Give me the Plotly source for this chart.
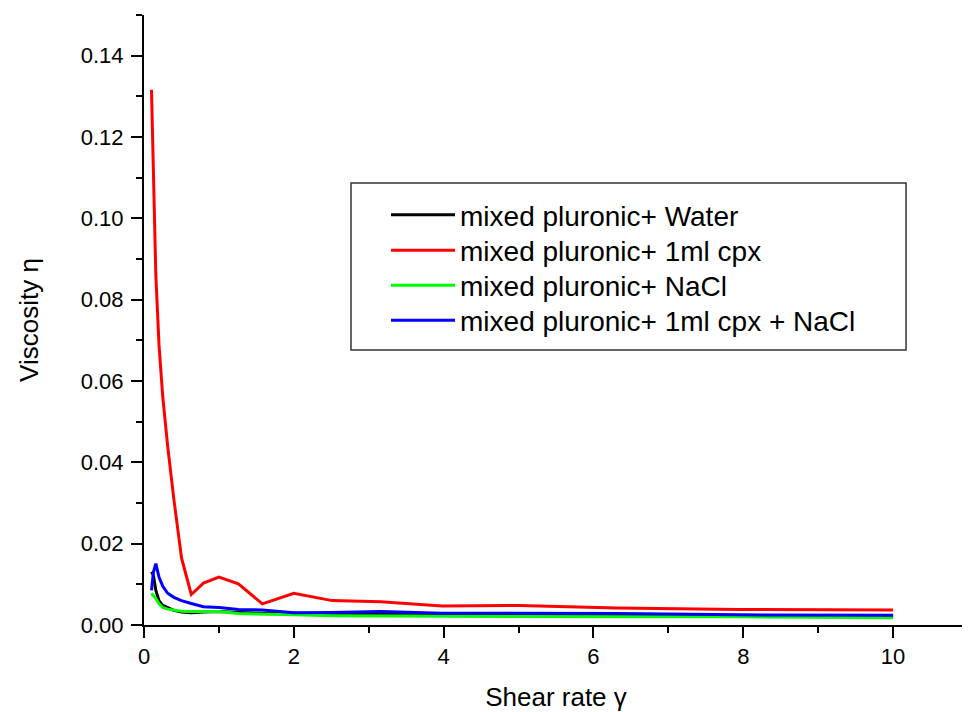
import plotly.graph_objects as go

shear_rate = [0.1, 0.126, 0.158, 0.2, 0.251, 0.316, 0.398, 0.501, 0.631, 0.794,
              1.0, 1.26, 1.58, 2.0, 2.51, 3.16, 3.98, 5.01, 6.31, 7.94, 10.0]

water = [0.0131, 0.0122, 0.0085, 0.0060, 0.0048, 0.0042, 0.0036, 0.0032, 0.0030, 0.0032,
         0.0033, 0.0031, 0.0029, 0.0029, 0.0027, 0.0027, 0.0026, 0.0025, 0.0024, 0.0023, 0.0022]
cpx = [0.1316, 0.112, 0.086, 0.069, 0.056, 0.044, 0.031, 0.0165, 0.0075, 0.0103,
       0.0118, 0.0101, 0.0052, 0.0078, 0.0060, 0.0057, 0.0047, 0.0048, 0.0042, 0.0038, 0.0037]
nacl = [0.0078, 0.0072, 0.0065, 0.0052, 0.0043, 0.0039, 0.0036, 0.0034, 0.0033, 0.0033,
        0.0033, 0.0028, 0.0026, 0.0025, 0.0023, 0.0022, 0.0021, 0.0021, 0.0020, 0.0020, 0.0018]
cpx_nacl = [0.0085, 0.0130, 0.0151, 0.0118, 0.0095, 0.0078, 0.0068, 0.0060, 0.0053, 0.0045,
            0.0043, 0.0038, 0.0037, 0.0030, 0.0031, 0.0033, 0.0029, 0.0029, 0.0028, 0.0025, 0.0024]

series = [
    ("mixed pluronic+ Water", water, "#000000"),
    ("mixed pluronic+ 1ml cpx", cpx, "#ff0000"),
    ("mixed pluronic+ NaCl", nacl, "#00ff00"),
    ("mixed pluronic+ 1ml cpx + NaCl", cpx_nacl, "#0000ff"),
]

FONT = "Liberation Sans, Arial, sans-serif"
X_RANGE = [0, 11]
Y_RANGE = [0, 0.15]
legend_rows_y = [0.6721, 0.6139, 0.5566, 0.4992]

fig = go.Figure()
legend_keys = ["legend", "legend2", "legend3", "legend4"]
for (name, vals, col), lk in zip(series, legend_keys):
    fig.add_trace(go.Scatter(x=shear_rate, y=vals, mode="lines", name=name,
                             line=dict(color=col, width=3), legend=lk))

axis_common = dict(
    showline=True, linecolor="black", linewidth=2, mirror=False,
    ticks="outside", tickcolor="black", tickwidth=2, ticklen=11,
    showgrid=False, zeroline=False, automargin=False,
    tickfont=dict(family=FONT, size=22, color="black"),
)

legend_common = dict(x=0.2937, xanchor="left", yanchor="middle",
                     bgcolor="rgba(0,0,0,0)", borderwidth=0,
                     font=dict(family=FONT, size=28, color="black"),
                     itemwidth=64)

fig.update_layout(
    xaxis=dict(range=X_RANGE, tick0=0, dtick=2,
               minor=dict(ticks="outside", dtick=1, ticklen=6, tickwidth=2, tickcolor="black"),
               title=dict(text="Shear rate γ", font=dict(family=FONT, size=26, color="black"), standoff=20),
               **axis_common),
    yaxis=dict(range=Y_RANGE, tick0=0, dtick=0.02, tickformat=".2f", ticklabelstandoff=3,
               minor=dict(ticks="outside", dtick=0.01, ticklen=6, tickwidth=2, tickcolor="black"),
               title=dict(text="Viscosity η", font=dict(family=FONT, size=26, color="black"), standoff=35),
               **axis_common),
    xaxis2=dict(overlaying="x", side="top", range=X_RANGE, tick0=0, dtick=2,
                showline=True, linecolor="black", linewidth=2, showgrid=False, zeroline=False,
                ticks="inside", ticklen=8, tickwidth=2, tickcolor="black", showticklabels=False,
                automargin=False, anchor="y"),
    yaxis2=dict(overlaying="y", side="right", range=Y_RANGE, tick0=0, dtick=0.02,
                showline=True, linecolor="black", linewidth=2, showgrid=False, zeroline=False,
                ticks="inside", ticklen=8, tickwidth=2, tickcolor="black", showticklabels=False,
                automargin=False, anchor="x"),
    width=962, height=704,
    margin=dict(l=136, r=2, t=7, b=87),
    paper_bgcolor="white", plot_bgcolor="white",
    showlegend=True,
    legend=dict(y=legend_rows_y[0], **legend_common),
    legend2=dict(y=legend_rows_y[1], **legend_common),
    legend3=dict(y=legend_rows_y[2], **legend_common),
    legend4=dict(y=legend_rows_y[3], **legend_common),
    shapes=[dict(type="rect", xref="paper", yref="paper",
                 x0=0.2512, x1=0.9248, y0=0.4508, y1=0.7246,
                 line=dict(color="#333333", width=1.5), fillcolor="rgba(0,0,0,0)", layer="above")],
)

fig.write_html("out.html")
